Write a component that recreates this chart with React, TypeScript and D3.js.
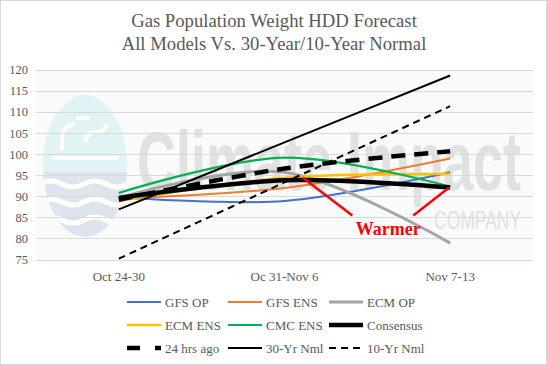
import React from 'react'
import * as d3 from 'd3'

// categories and series values
const categories = ['Oct 24-30', 'Oc 31-Nov 6', 'Nov 7-13']
const yTicks = [75, 80, 85, 90, 95, 100, 105, 110, 115, 120]

const gfsOp = [89.8, 88.9, 95.7]
const gfsEns = [89.5, 92.0, 99.0]
const ecmOp = [89.6, 95.7, 78.9]
const ecmEns = [88.9, 94.4, 95.3]
const cmcEns = [90.8, 99.2, 92.3]
const consensus = [89.6, 93.8, 92.1]
const hrs24Ago = [89.2, 96.6, 100.7]
const nml30 = [86.9, 102.8, 118.7]
const nml10 = [75.2, 93.3, 111.4]

const series = [
  { name: 'GFS OP', values: gfsOp, color: '#4472C4', width: 2, dash: null },
  { name: 'GFS ENS', values: gfsEns, color: '#ED7D31', width: 2, dash: null },
  { name: 'ECM OP', values: ecmOp, color: '#A5A5A5', width: 3, dash: null },
  { name: 'ECM ENS', values: ecmEns, color: '#FFC000', width: 2.5, dash: null },
  { name: 'CMC ENS', values: cmcEns, color: '#00B050', width: 2.2, dash: null },
  { name: 'Consensus', values: consensus, color: '#000000', width: 4.5, dash: null },
  { name: '24 hrs ago', values: hrs24Ago, color: '#000000', width: 4.5, dash: '14,9' },
  { name: '30-Yr Nml', values: nml30, color: '#000000', width: 2, dash: null },
  { name: '10-Yr Nml', values: nml10, color: '#000000', width: 2, dash: '7,5' },
]

const W = 547
const H = 365
const margin = { left: 36, right: 14, top: 70, bottom: 105.5 }
const textColor = '#595959'
const serif = '"Liberation Serif", "Times New Roman", serif'
const sans = '"Liberation Sans", Arial, sans-serif'

const App = () => {
  const x = d3
    .scaleBand()
    .domain(categories)
    .range([margin.left, W - margin.right])
  const y = d3
    .scaleLinear()
    .domain([75, 120])
    .range([H - margin.bottom, margin.top])

  const cx = (c) => x(c) + x.bandwidth() / 2

  const line = d3
    .line<number>()
    .x((d, i) => cx(categories[i]))
    .y((d) => y(d))
    .curve(d3.curveCardinal.tension(0))

  const plotLeft = margin.left
  const plotRight = W - margin.right
  const plotTop = y(120)
  const plotBottom = y(75)

  // annotation anchors
  const warmX = (cx(categories[1]) + cx(categories[2])) / 2 + 21
  const warmY = y(75) - 25
  const a1 = [cx(categories[1]) + 18, y(94.5)]
  const a2 = [cx(categories[2]) - 1, y(consensus[2])]

  return (
    <div style={{ position: 'absolute', left: 0, top: 0 }}>
      <svg width={W} height={H} style={{ display: 'block', fontFamily: serif }}>
        <rect x={0} y={0} width={W} height={H} fill="#ffffff" />
        <rect x={0.5} y={0.5} width={W - 1} height={H - 1} fill="none" stroke="#d9d9d9" />

        {/* title */}
        <text x={274} y={27} textAnchor="middle" fontSize={18.7} fill={textColor}>
          Gas Population Weight HDD Forecast
        </text>
        <text x={274} y={50} textAnchor="middle" fontSize={18.7} fill={textColor}>
          All  Models Vs. 30-Year/10-Year  Normal
        </text>

        {/* plot background + watermark */}
        <rect x={plotLeft} y={plotTop} width={plotRight - plotLeft} height={plotBottom - plotTop} fill="#f9fafa" />
        <g>
          <clipPath id="logoClip">
            <ellipse cx={85} cy={166} rx={42} ry={71} />
          </clipPath>
          <g clipPath="url(#logoClip)">
            <rect x={40} y={94} width={90} height={78} fill="#e2f3f6" />
            <rect x={40} y={172} width={90} height={70} fill="#dde4ee" />
            <path d="M40,184 q11,-6 22,0 t22,0 t22,0 t22,0 t22,0" stroke="#fff" strokeWidth={5} fill="none" />
            <path d="M40,202 q11,-6 22,0 t22,0 t22,0 t22,0 t22,0" stroke="#fff" strokeWidth={5} fill="none" />
            <path d="M40,220 q11,-6 22,0 t22,0 t22,0 t22,0 t22,0" stroke="#fff" strokeWidth={5} fill="none" />
            <path d="M52,158 l66,0 M62,150 l0,-14 q2,-10 12,-12 M76,118 l14,0 M86,142 q0,-10 10,-10 q10,0 10,-8" stroke="#fff" strokeWidth={4} fill="none" />
          </g>
        </g>
        <text transform="translate(137,190) scale(1,1.55)" fontSize={54} fontFamily={sans} fontWeight="bold"
          fill="#e1e1e1">
          Climate Impact
        </text>
        <text transform="translate(434,229) scale(1,1.5)" fontSize={17.5} fontFamily={sans}
          fill="#e1e1e1">
          COMPANY
        </text>

        {/* gridlines + y labels */}
        {yTicks.map((t) => (
          <g key={t}>
            <line x1={plotLeft} x2={plotRight} y1={Math.round(y(t)) + 0.5} y2={Math.round(y(t)) + 0.5} stroke="#d9d9d9" />
            <text x={28} y={y(t)} dy="0.35em" textAnchor="end" fontSize={12.5} fill={textColor}>
              {t}
            </text>
          </g>
        ))}
        {categories.map((c) => (
          <text key={c} x={cx(c)} y={plotBottom + 21} textAnchor="middle" fontSize={13} fill={textColor}>
            {c}
          </text>
        ))}

        {/* series */}
        {series.map((s) => (
          <path
            key={s.name}
            d={line(s.values)}
            fill="none"
            stroke={s.color}
            strokeWidth={s.width}
            strokeDasharray={s.dash || undefined}
          />
        ))}

        {/* annotation */}
        <line x1={a1[0]} y1={a1[1]} x2={warmX - 36} y2={warmY - 19} stroke="#ff0000" strokeWidth={2.5} />
        <line x1={a2[0]} y1={a2[1]} x2={warmX + 25} y2={warmY - 19} stroke="#ff0000" strokeWidth={2.5} />
        <text x={warmX} y={warmY} textAnchor="middle" fontSize={18} fontWeight="bold" fill="#ff0000">
          Warmer
        </text>

        {/* legend */}
        {series.map((s, i) => {
          const col = i % 3
          const row = Math.floor(i / 3)
          const lx = 127 + col * 101
          const ly = 302 + row * 23
          return (
            <g key={s.name}>
              <line
                x1={lx}
                x2={lx + 34}
                y1={ly}
                y2={ly}
                stroke={s.color}
                strokeWidth={s.width}
                strokeDasharray={s.name === '24 hrs ago' ? '13,15' : s.dash || undefined}
              />
              <text x={lx + 38} y={ly} dy="0.35em" fontSize={13} fill={textColor}>
                {s.name}
              </text>
            </g>
          )
        })}
      </svg>
    </div>
  )
}

export default App
